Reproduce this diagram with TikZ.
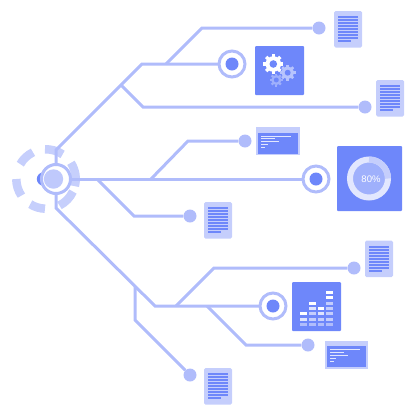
\documentclass[tikz,border=0pt]{standalone}
\usepackage{fontspec}
\setmainfont{Liberation Sans}
\definecolor{linec}{HTML}{B0BCFB}
\definecolor{boxc}{HTML}{6E87FA}
\definecolor{paper}{HTML}{C5CEFC}
\definecolor{ringlight}{HTML}{E2E7FE}
\definecolor{diskc}{HTML}{9FB0FC}
\tikzset{
  x=1pt,y=-1pt,
  conn/.style={draw=linec,line width=3pt,line join=miter},
  enddot/.style={circle,fill=linec,minimum size=13pt,inner sep=0pt},
  hubring/.style={circle,draw=linec,line width=3pt,fill=white,minimum size=26pt,inner sep=0pt},
  hubcore/.style={circle,fill=boxc,minimum size=13pt,inner sep=0pt},
  dasharc/.style={draw=linec,opacity=.72,line width=8.5pt},
  panel/.style={fill=boxc,rounded corners=1pt},
  pics/docsheet/.style={code={
    \fill[paper,rounded corners=1.5pt] (0,0) rectangle (28,36.5);
    \foreach \r in {0,...,7}{\fill[boxc] (4,5.2+3*\r) rectangle (24,7+3*\r);}
    \fill[boxc] (4,29.2) rectangle (17,31);
  }},
  pics/winsheet/.style={code={
    \fill[paper] (0,0) rectangle (43.5,28);
    \fill[boxc] (2,5.5) rectangle (41.5,26.5);
    \fill[ringlight] (5,8.6) rectangle (35,9.6);
    \fill[ringlight] (5,11.3) rectangle (19,12.3);
    \fill[ringlight] (5,14.2) rectangle (23,15.2);
    \fill[ringlight] (5,17) rectangle (11.5,18);
    \fill[ringlight] (5,20) rectangle (9,21);
  }},
  pics/cog/.style n args={3}{code={
    \fill[#2] (0,0) circle[radius=#1*.78];
    \foreach \a in {0,45,...,315}{
      \fill[#2,rotate=\a] (-#1*.17,-#1) rectangle (#1*.17,-#1*.7);
    }
    \fill[#3] (0,0) circle[radius=#1*.38];
  }},
}
\begin{document}
\begin{tikzpicture}
\useasboundingbox (0,0) rectangle (415,413);
% end dots
\node[enddot] (d1) at (319,28) {};
\node[enddot] (d2) at (365,107) {};
\node[enddot] (d3) at (245,141) {};
\node[enddot] (d4) at (190,216) {};
\node[enddot] (d5) at (354,268) {};
\node[enddot] (d6) at (308,345) {};
\node[enddot] (d7) at (190,375) {};
% joints
\coordinate (rootc) at (56,179);
\coordinate (top0) at (56,165);
\coordinate (top1) at (56,150);
\coordinate (j1) at (121,85);
\coordinate (j2) at (142,64);
\coordinate (j3) at (166,64);
\coordinate (j4) at (202,28);
\coordinate (j5) at (143,107);
\coordinate (r0) at (70,179);
\coordinate (r1) at (151,179);
\coordinate (r2) at (188,141);
\coordinate (r3) at (97,179);
\coordinate (r4) at (134,216);
\coordinate (b0) at (56,193);
\coordinate (b1) at (56,208);
\coordinate (b2) at (155,306);
\coordinate (b3) at (135,287);
\coordinate (b4) at (135,320);
\coordinate (b5) at (176,306);
\coordinate (b6) at (214,268);
\coordinate (b7) at (207,306);
\coordinate (b8) at (246,345);
\coordinate (h1c) at (232,64);
\coordinate (h2c) at (316,179);
\coordinate (h3c) at (273,306);
% connectors
\draw[conn] (top0) -- (top1) -- (j1) -- (j2) -- (h1c);
\draw[conn] (j3) -- (j4) -- (d1);
\draw[conn] (j1) -- (j5) -- (d2);
\draw[conn] (r0) -- (h2c);
\draw[conn] (r1) -- (r2) -- (d3);
\draw[conn] (r3) -- (r4) -- (d4);
\draw[conn] (b0) -- (b1) -- (b2) -- (h3c);
\draw[conn] (b3) -- (b4) -- (d7);
\draw[conn] (b5) -- (b6) -- (d5);
\draw[conn] (b7) -- (b8) -- (d6);
% hubs
\node[hubring] (h1) at (h1c) {};
\node[hubcore] (h1i) at (h1c) {};
\node[hubring] (h2) at (h2c) {};
\node[hubcore] (h2i) at (h2c) {};
\node[hubring] (h3) at (h3c) {};
\node[hubcore] (h3i) at (h3c) {};
% root
\fill[boxc] (43.5,179) circle[radius=6.7];
\node[circle,draw=linec,line width=3pt,fill=white,minimum size=29pt,inner sep=0pt] (root) at (rootc) {};
\fill[paper!70!linec] (53.5,179) circle[radius=9.7];
% dashed arcs around root (screen angles)
\coordinate (ac) at (46,179);
\foreach \s/\e in {92/56,33/-14,-25/-63,-92/-122,180/214,116/150}{
  \draw[dasharc] (ac) ++(-\s:29.7) arc[start angle=-\s,end angle=-\e,radius=29.7];
}
% documents
\pic at (334,11) {docsheet};
\pic at (376,80) {docsheet};
\pic at (204,202) {docsheet};
\pic at (365,240.5) {docsheet};
\pic at (204,368) {docsheet};
% windows
\pic at (256,127) {winsheet};
\pic at (324.5,340.5) {winsheet};
% gears panel
\fill[panel] (255,46) rectangle (304,95);
\pic at (273.3,64) {cog={10}{white}{boxc}};
\pic at (287.7,72.7) {cog={7.8}{diskc!75!white}{boxc}};
\pic at (276.3,80) {cog={6.5}{diskc}{boxc}};
% progress panel
\fill[panel] (337,146) rectangle (402,211);
\fill[diskc] (369,178.5) circle[radius=19];
\draw[ringlight,line width=6pt] (369,178.5) circle[radius=19];
\draw[paper,line width=6pt] (369,159.5) arc[start angle=-90,end angle=0,radius=19];
\node[text=white,font=\fontsize{9.5}{10}\selectfont,inner sep=0pt] (pct) at (371,179) {80\%};
% chart panel
\fill[panel] (292,282) rectangle (341,331);
\foreach \cx/\n in {300.3/3,309/5,317.7/4,326.1/7}{
  \foreach \i in {1,...,\n}{
    \pgfmathsetmacro{\yy}{323+(1-\i)*5.33}
    \pgfmathsetmacro{\mixv}{\i==\n ? 100 : (\i==\n-1 && \n==7 ? 100 : (\i==\n-1 ? 60 : (\i==1 ? 0 : 25)))}
    \fill[white!\mixv!linec] (\cx,\yy) rectangle ++(6.7,3);
  }
}
\end{tikzpicture}
\end{document}
